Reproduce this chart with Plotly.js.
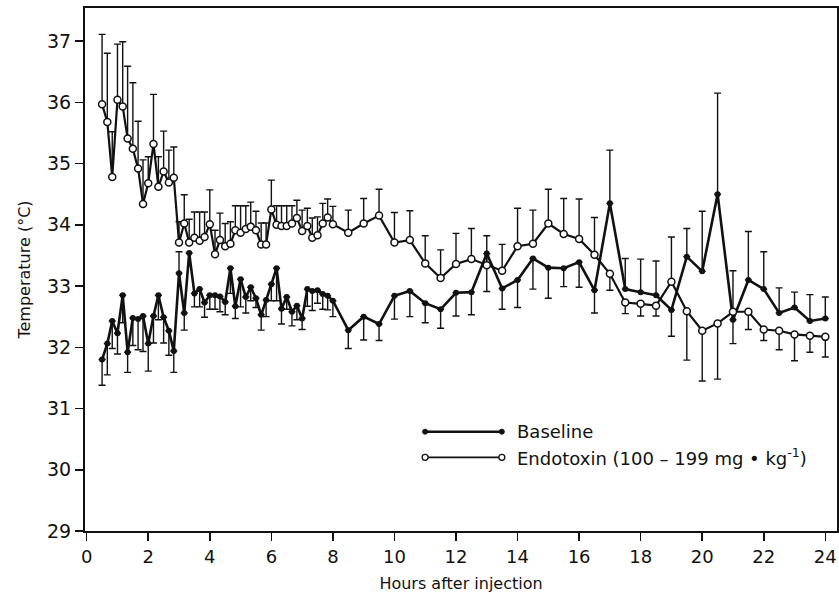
<!DOCTYPE html>
<html>
<head>
<meta charset="utf-8">
<script src="https://cdn.plot.ly/plotly-3.0.1.min.js"></script>
<style>html,body{margin:0;padding:0;background:#fff;}#chart{width:839px;height:603px;}</style>
</head>
<body>
<div id="chart"></div>
<script>
// Hours after injection
var hours = [0.5,0.67,0.83,1.0,1.17,1.33,1.5,1.67,1.83,2.0,2.17,2.33,2.5,2.67,2.83,3.0,3.17,3.33,3.5,3.67,3.83,4.0,4.17,4.33,4.5,4.67,4.83,5.0,5.17,5.33,5.5,5.67,5.83,6.0,6.17,6.33,6.5,6.67,6.83,7.0,7.17,7.33,7.5,7.67,7.83,8.0,
  8.5,9,9.5,10,10.5,11,11.5,12,12.5,13,13.5,14,14.5,15,15.5,16,16.5,17,17.5,18,18.5,19,19.5,20,20.5,21,21.5,22,22.5,23,23.5,24];

// Baseline temperature (°C) and error bar extents
var baseline = [31.80,32.06,32.43,32.23,32.85,31.92,32.48,32.46,32.51,32.06,32.51,32.85,32.49,32.27,31.94,33.21,32.56,33.54,32.88,32.95,32.73,32.85,32.85,32.83,32.74,33.29,32.67,33.11,32.82,32.98,32.80,32.53,32.77,33.03,33.29,32.63,32.82,32.58,32.68,32.47,32.95,32.92,32.93,32.87,32.84,32.76,
  32.28,32.50,32.38,32.84,32.92,32.72,32.62,32.89,32.90,33.53,32.96,33.10,33.45,33.30,33.29,33.39,32.93,34.35,32.95,32.90,32.85,32.61,33.48,33.24,34.50,32.45,33.10,32.95,32.56,32.65,32.43,32.47];
var baselineErrUp = [0,0,0,0,0,0,0,0,0,0,0,0,0,0,0,0.35,0,0,0,0,0,0,0,0,0,0,0,0,0,0,0,0,0,0,0,0,0,0,0,0,0,0,0,0,0,0,
  0,0,0,0,0,0,0,0,0,0,0,0,0,0,0,0,0,0.87,0.50,0.54,0.56,0,0.46,0.98,1.65,0.80,0.79,0.61,0.41,0.25,0.43,0.35];
var baselineErrDown = [0.42,0.51,0.45,0.34,0.45,0.33,0.45,0.50,0.58,0.45,0.44,0.40,0.42,0.40,0.35,0,0.28,0,0.22,0.29,0.24,0.23,0.23,0.25,0.21,0.41,0.20,0.45,0.26,0.22,0.15,0.25,0.27,0.27,0.53,0.25,0.20,0.23,0.23,0.18,0.28,0.32,0.21,0.25,0.23,0.26,
  0.30,0.38,0.27,0.38,0.42,0.32,0.31,0.38,0.37,0.62,0.34,0.45,0.50,0.50,0.30,0.41,0.37,0,0,0,0,0.43,0,0,0,0,0,0,0,0,0,0];

// Endotoxin temperature (°C) and error bar extents
var endotoxin = [35.97,35.68,34.78,36.04,35.93,35.41,35.24,34.92,34.34,34.68,35.32,34.62,34.87,34.69,34.77,33.71,34.02,33.71,33.79,33.74,33.80,34.01,33.52,33.75,33.65,33.69,33.91,33.87,33.93,33.97,33.91,33.68,33.68,34.25,34.00,33.98,33.98,34.02,34.11,33.90,33.98,33.79,33.83,34.02,34.12,34.01,
  33.87,34.02,34.15,33.71,33.75,33.37,33.13,33.36,33.44,33.34,33.25,33.65,33.69,34.02,33.85,33.77,33.51,33.20,32.73,32.71,32.68,33.07,32.59,32.27,32.39,32.58,32.58,32.29,32.27,32.21,32.19,32.17];
var endotoxinErrUp = [1.14,1.12,0.74,0.91,1.06,1.18,1.08,0.77,0.72,0.43,0.81,0.49,0.66,0.53,0.50,0.34,0.47,0.38,0.42,0.47,0.41,0.56,0.39,0.44,0.37,0.36,0.40,0.44,0.38,0.40,0.31,0.35,0.35,0.48,0.31,0.33,0.33,0.29,0.29,0.34,0.29,0.32,0.30,0.33,0.30,0.29,
  0.37,0.41,0.43,0.49,0.48,0.45,0.46,0.50,0.50,0.48,0.43,0.62,0.55,0.56,0.58,0.65,0.61,0,0,0,0,0.73,0,0,0,0,0,0,0,0,0,0];
var endotoxinErrDown = [0,0,0,0,0,0,0,0,0,0,0,0,0,0,0,0,0,0,0,0,0,0,0,0,0,0,0,0,0,0,0,0,0,0,0,0,0,0,0,0,0,0,0,0,0,0,
  0,0,0,0,0,0,0,0,0,0,0,0,0,0,0,0,0,0.27,0.18,0.20,0.17,0,0.80,0.82,0.91,0.52,0.29,0.18,0.31,0.43,0.27,0.33];

var seriesNames = ['Baseline', 'Endotoxin (100 \u2013 199 mg \u2022 kg<sup>-1</sup>)'];
var xTicks = [0,2,4,6,8,10,12,14,16,18,20,22,24];
var yTicks = [29,30,31,32,33,34,35,36,37];

var FONT = 'DejaVu Sans, sans-serif';

var traces = [
  {
    x: hours, y: baseline, type: 'scatter', mode: 'lines+markers', name: seriesNames[0],
    line: {color: '#111', width: 2.6},
    marker: {symbol: 'circle', size: 6, color: '#111'},
    error_y: {type: 'data', symmetric: false, array: baselineErrUp, arrayminus: baselineErrDown,
      color: '#111', thickness: 1.4, width: 3.5},
    showlegend: false, cliponaxis: false
  },
  {
    x: hours, y: endotoxin, type: 'scatter', mode: 'lines+markers', name: seriesNames[1],
    line: {color: '#111', width: 2.2},
    marker: {symbol: 'circle', size: 7, color: '#fff', line: {color: '#111', width: 1.5}},
    error_y: {type: 'data', symmetric: false, array: endotoxinErrUp, arrayminus: endotoxinErrDown,
      color: '#111', thickness: 1.4, width: 3.5},
    showlegend: false, cliponaxis: false
  }
];

// legend drawn in paper coordinates
var lx0 = 0.4523, lx1 = 0.5543, ly1 = 0.1899, ly2 = 0.1409, ltx = 0.572;
var shapes = [
  {type: 'line', xref: 'paper', yref: 'paper', x0: lx0, x1: lx1, y0: ly1, y1: ly1, line: {color: '#111', width: 2.6}},
  {type: 'line', xref: 'paper', yref: 'paper', x0: lx0, x1: lx1, y0: ly2, y1: ly2, line: {color: '#111', width: 1.8}}
];
[lx0, lx1].forEach(function (px) {
  shapes.push({type: 'circle', xref: 'paper', yref: 'paper', xsizemode: 'pixel', ysizemode: 'pixel',
    xanchor: px, yanchor: ly1, x0: -2.5, x1: 2.5, y0: -2.5, y1: 2.5, fillcolor: '#111', line: {color: '#111', width: 1}});
  shapes.push({type: 'circle', xref: 'paper', yref: 'paper', xsizemode: 'pixel', ysizemode: 'pixel',
    xanchor: px, yanchor: ly2, x0: -3, x1: 3, y0: -3, y1: 3, fillcolor: '#fff', line: {color: '#111', width: 1.3}});
});

var layout = {
  width: 839, height: 603,
  margin: {l: 85, r: 2, t: 8, b: 72},
  paper_bgcolor: '#fff', plot_bgcolor: '#fff',
  font: {family: FONT, color: '#111', size: 18},
  showlegend: false,
  xaxis: {
    range: [-0.055, 24.38], tickmode: 'array', tickvals: xTicks, ticktext: xTicks.map(String),
    ticks: 'outside', ticklen: 8, tickwidth: 1.5, tickcolor: '#111',
    showline: true, linewidth: 2, linecolor: '#111', mirror: true,
    showgrid: false, zeroline: false,
    tickfont: {family: FONT, size: 18, color: '#111'},
    title: {text: 'Hours after injection', font: {family: FONT, size: 16, color: '#111'}, standoff: 12}
  },
  yaxis: {
    range: [29, 37.54], tickmode: 'array', tickvals: yTicks, ticktext: yTicks.map(String),
    ticks: 'outside', ticklen: 8, tickwidth: 1.5, tickcolor: '#111',
    showline: true, linewidth: 2, linecolor: '#111', mirror: true,
    showgrid: false, zeroline: false,
    tickfont: {family: FONT, size: 19, color: '#111'},
    title: {text: 'Temperature (\u00B0C)', font: {family: FONT, size: 16, color: '#111'}, standoff: 12}
  },
  shapes: shapes,
  annotations: [
    {xref: 'paper', yref: 'paper', x: ltx, y: ly1, xanchor: 'left', yanchor: 'middle', showarrow: false,
      text: seriesNames[0], font: {family: FONT, size: 18, color: '#111'}},
    {xref: 'paper', yref: 'paper', x: ltx, y: ly2, xanchor: 'left', yanchor: 'middle', showarrow: false,
      text: seriesNames[1], font: {family: FONT, size: 18, color: '#111'}}
  ]
};

Plotly.newPlot('chart', traces, layout, {displayModeBar: false, staticPlot: true});
</script>
</body>
</html>
